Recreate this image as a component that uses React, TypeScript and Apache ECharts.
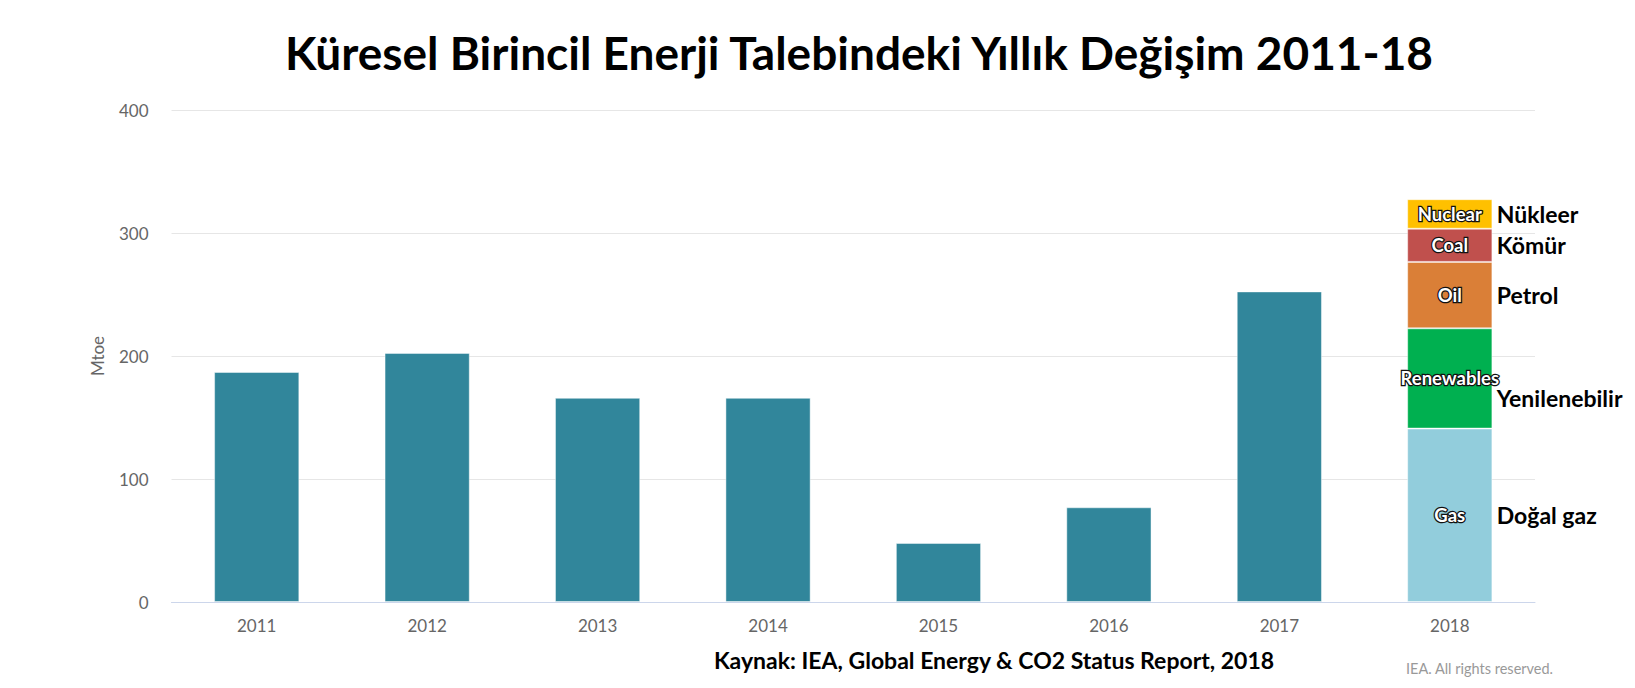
import React, { useEffect, useRef } from "react";
import * as echarts from "echarts";

const years = ["2011", "2012", "2013", "2014", "2015", "2016", "2017", "2018"];
const totalChange = [187, 202.5, 166, 166, 48, 77, 252.5, null];
const fuelNames = ["Gas", "Renewables", "Oil", "Coal", "Nuclear"];
const fuelNamesTr = ["Doğal gaz", "Yenilenebilir", "Petrol", "Kömür", "Nükleer"];
const fuel2018 = [141, 81.5, 54, 27, 24];
const fuelColors = ["#92CDDC", "#00B050", "#DA7F37", "#C0504D", "#FFC000"];
const trLabelOffsetY = [0, 20, 0, 0, 0];
const yTicks = { min: 0, max: 400, interval: 100 };

const FONT = "Lato";

export default function App() {
  const ref = useRef<HTMLDivElement>(null);
  useEffect(() => {
    document.body.style.margin = "0";
    const chart = echarts.init(ref.current!, null, { renderer: "svg" });
    let cum = 0;
    const fuelSeries = fuelNames.map((name, i) => {
      const mid = cum + fuel2018[i] / 2;
      cum += fuel2018[i];
      return {
        name,
        type: "bar",
        stack: "a",
        barWidth: "50%",
        data: years.map((y, j) => (j === years.length - 1 ? fuel2018[i] : null)),
        itemStyle: { color: fuelColors[i], borderColor: "rgba(255,255,255,0.45)", borderWidth: 1 },
        label: {
          show: true,
          position: "inside",
          formatter: name,
          color: "#fff",
          fontFamily: FONT,
          fontWeight: "bold",
          fontSize: 18.5,
          textBorderColor: "#111",
          textBorderWidth: 2.5,
        },
        markPoint: {
          symbol: "circle",
          symbolSize: 0,
          silent: true,
          data: [
            {
              coord: ["2018", mid],
              label: {
                show: true,
                position: "right",
                distance: 0,
                offset: [47, trLabelOffsetY[i]],
                formatter: fuelNamesTr[i],
                color: "#000",
                fontFamily: FONT,
                fontWeight: "bold",
                fontSize: 23,
              },
            },
          ],
        },
      };
    });
    chart.setOption({
      animation: false,
      title: [
        {
          text: "Küresel Birincil Enerji Talebindeki Yıllık Değişim 2011-18",
          left: 854,
          textAlign: "center",
          top: 24,
          textStyle: { fontFamily: FONT, fontWeight: "bold", fontSize: 46, color: "#000" },
        },
        {
          text: "Kaynak: IEA, Global Energy & CO2 Status Report, 2018",
          left: 989,
          textAlign: "center",
          top: 643,
          textStyle: { fontFamily: FONT, fontWeight: "bold", fontSize: 23, color: "#000" },
        },
        {
          text: "IEA. All rights reserved.",
          left: 1401,
          top: 656,
          textStyle: { fontFamily: FONT, fontWeight: "normal", fontSize: 14.5, color: "#999" },
        },
      ],
      grid: { left: 171.5, right: 100, top: 110, bottom: 86 },
      xAxis: {
        type: "category",
        data: years,
        axisLine: { lineStyle: { color: "#ccd6eb" } },
        axisTick: { show: false },
        axisLabel: { color: "#666", fontFamily: FONT, fontSize: 17, margin: 15 },
      },
      yAxis: {
        type: "value",
        min: yTicks.min,
        max: yTicks.max,
        interval: yTicks.interval,
        name: "Mtoe",
        nameLocation: "middle",
        nameGap: 66,
        nameTextStyle: { color: "#666", fontFamily: FONT, fontSize: 17 },
        axisLabel: { color: "#666", fontFamily: FONT, fontSize: 17, margin: 23 },
        splitLine: { lineStyle: { color: "#e6e6e6" } },
        axisLine: { show: false },
        axisTick: { show: false },
      },
      series: [
        {
          name: "Total",
          type: "bar",
          stack: "a",
          barWidth: "50%",
          data: totalChange,
          itemStyle: { color: "#31869B", borderColor: "rgba(255,255,255,0.45)", borderWidth: 1 },
        },
        ...fuelSeries,
      ],
    });
    return () => chart.dispose();
  }, []);
  return <div ref={ref} style={{ width: 1635, height: 688 }} />;
}
